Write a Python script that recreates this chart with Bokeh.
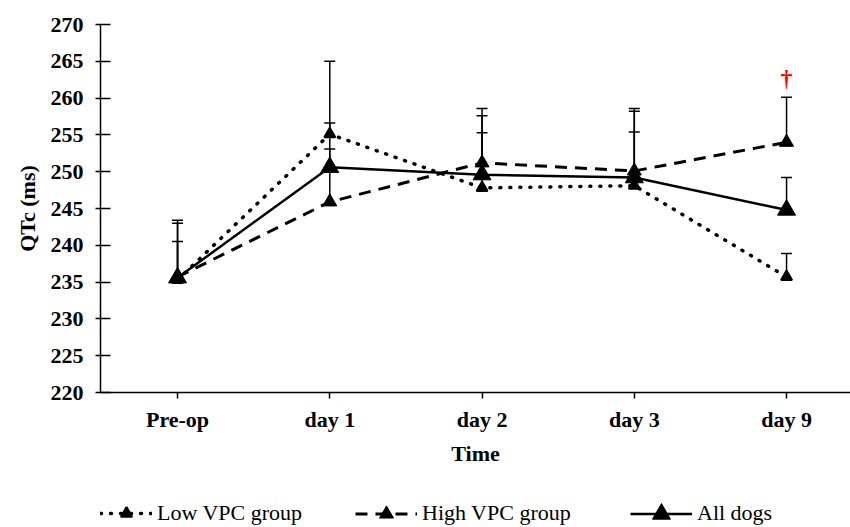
from bokeh.plotting import figure
from bokeh.layouts import column
from bokeh.models import (ColumnDataSource, Range1d, FixedTicker, Whisker, TeeHead,
                          Legend, LegendItem)
from bokeh.core.properties import value
from bokeh.embed import file_html
from bokeh.resources import INLINE

# QTc (ms) over time, mean with upper error bar
time_labels = ["Pre-op", "day 1", "day 2", "day 3", "day 9"]

low_vpc = [235.3, 255.1, 247.8, 248.1, 235.7]
low_vpc_upper = [243.4, 256.6, 257.6, 258.2, 238.9]

high_vpc = [235.7, 245.9, 251.2, 250.1, 254.0]
high_vpc_upper = [243.0, 265.0, 258.6, 258.6, 260.1]

all_dogs = [235.6, 250.6, 249.6, 249.2, 244.8]
all_dogs_upper = [240.5, 253.1, 255.3, 255.4, 249.2]

series_names = ["Low VPC group", "High VPC group", "All dogs"]

# significance marker (day 9)
dagger_x = [4]
dagger_y = [262.7]

FONT = "Liberation Serif"
xs = list(range(len(time_labels)))

# line / marker style per series
STYLES = [
    dict(line=dict(line_color="black", line_width=3.5, line_dash="1 9", line_cap="round"),
         mark=dict(marker="triangle", size=11, fill_color="black", line_color="black", line_width=2)),
    dict(line=dict(line_color="black", line_width=3, line_dash="12 8"),
         mark=dict(marker="triangle", size=14, fill_color="black", line_color="black")),
    dict(line=dict(line_color="black", line_width=2.5),
         mark=dict(marker="triangle", size=18, fill_color="black", line_color="black")),
]

p = figure(width=850, height=467, output_backend="svg", toolbar_location=None,
           x_range=Range1d(-0.506, 4.42), y_range=Range1d(220, 270),
           frame_width=750, frame_height=368,
           min_border_left=100, min_border_right=0, min_border_top=24,
           min_border_bottom=75)
p.outline_line_color = None
p.grid.visible = False

# error bars (upper only)
for means, uppers in [(low_vpc, low_vpc_upper), (high_vpc, high_vpc_upper),
                      (all_dogs, all_dogs_upper)]:
    src = ColumnDataSource(dict(x=xs, lo=means, hi=uppers))
    w = Whisker(base="x", lower="lo", upper="hi", source=src,
                line_color="black", line_width=1.5,
                upper_head=TeeHead(size=11, line_color="black", line_width=1.5),
                lower_head=None)
    p.add_layout(w)

# series lines and markers
for vals, st in zip([low_vpc, high_vpc, all_dogs], STYLES):
    p.line(xs, vals, **st["line"])
    p.scatter(xs, vals, **st["mark"])

p.text(x=dagger_x, y=dagger_y, text=["†"], text_color="red",
       text_font=value(FONT), text_font_size="24px", text_font_style="bold",
       text_align="center", text_baseline="middle")

# axes
p.xaxis.ticker = FixedTicker(ticks=xs)
p.xaxis.major_label_overrides = {i: t for i, t in enumerate(time_labels)}
p.xaxis.axis_label = "Time"
p.yaxis.axis_label = "QTc (ms)"
p.yaxis.ticker = FixedTicker(ticks=list(range(220, 271, 5)))

for ax in (p.xaxis[0], p.yaxis[0]):
    ax.axis_line_color = "black"
    ax.axis_line_width = 1.5
    ax.major_tick_line_color = "black"
    ax.major_tick_line_width = 1.5
    ax.minor_tick_line_color = None
    ax.major_label_text_font = FONT
    ax.major_label_text_font_style = "bold"
    ax.major_label_text_font_size = "22px"
    ax.major_label_text_color = "black"
    ax.axis_label_text_font = FONT
    ax.axis_label_text_font_style = "bold"
    ax.axis_label_text_font_size = "22px"
    ax.axis_label_text_color = "black"

p.xaxis.major_tick_in = 0
p.xaxis.major_tick_out = 6
p.xaxis.major_label_standoff = 8
p.xaxis.axis_label_standoff = 6
p.yaxis.major_tick_in = 10
p.yaxis.major_tick_out = 5
p.yaxis.major_label_standoff = 12
p.yaxis.axis_label_standoff = 8

# legend strip below the chart (its frame lines up with the chart frame)
leg = figure(width=850, height=60, output_backend="svg", toolbar_location=None,
             x_range=Range1d(0, 1), y_range=Range1d(0, 1),
             frame_width=750, frame_height=60,
             min_border_left=100, min_border_right=0, min_border_top=0,
             min_border_bottom=0, x_axis_type=None, y_axis_type=None)
leg.outline_line_color = None
leg.grid.visible = False

legend_x = [0, 255, 530]
glyph_w = [52, 62, 62]
# legend markers are sized from the glyph box (0.4 x its smaller side)
glyph_h = [28, 35, 45]
for name, st, lx, gw, gh in zip(series_names, STYLES, legend_x, glyph_w, glyph_h):
    # one point outside the visible range so the legend has a glyph to draw
    r_line = leg.line([-5, -4], [-5, -5], **st["line"])
    r_mark = leg.scatter([-5], [-5], **st["mark"])
    lg = Legend(items=[LegendItem(label=name, renderers=[r_line, r_mark])],
                location=(lx, 15 - gh / 2), label_text_font=FONT,
                label_text_font_size="22px", label_text_color="black",
                glyph_width=gw, glyph_height=gh,
                label_standoff=5, border_line_color=None,
                background_fill_alpha=0, padding=0, margin=0)
    leg.add_layout(lg)

layout = column(p, leg, spacing=0)

open("out.html", "w").write(file_html(layout, INLINE))
